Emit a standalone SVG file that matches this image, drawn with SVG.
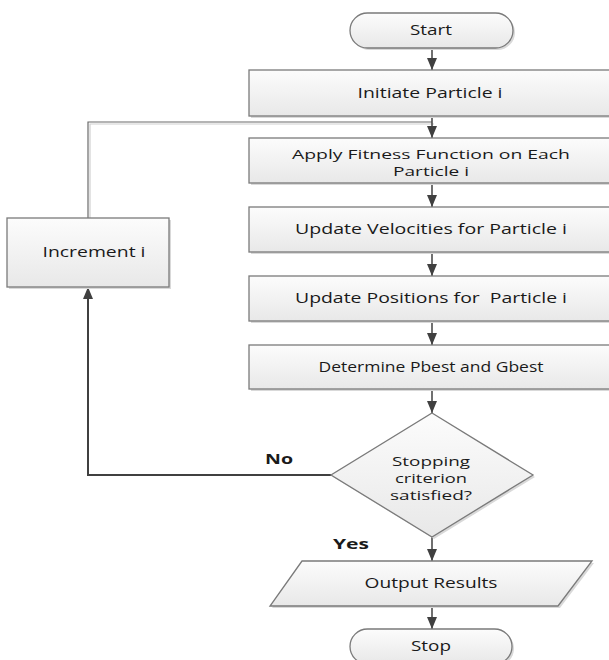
<svg xmlns="http://www.w3.org/2000/svg" width="609" height="660" viewBox="0 0 609 660">
<style>
.box{fill:url(#g);stroke:#7a7a7a;stroke-width:1.3}
.sh{fill:#d9d9d9}
.t{font-family:"Open Sans","DejaVu Sans",sans-serif;font-size:14px;fill:#1a1a1a;text-anchor:middle}
.t2{font-family:"Open Sans","DejaVu Sans",sans-serif;font-size:12px;fill:#1a1a1a;text-anchor:middle}
.lbl{font-family:"Open Sans","DejaVu Sans",sans-serif;font-size:14px;font-weight:bold;fill:#1a1a1a}
.c{fill:none;stroke:#404040;stroke-width:1.5}
.ah{fill:#404040}
</style>
<defs>
<linearGradient id="g" x1="0" y1="0" x2="0" y2="1">
<stop offset="0" stop-color="#fcfcfc"/>
<stop offset="1" stop-color="#e8e8e8"/>
</linearGradient>
<marker id="arr" markerWidth="12" markerHeight="10" refX="12" refY="5" orient="auto" markerUnits="userSpaceOnUse">
<path d="M0,0 L12,5 L0,10 Z" class="ah"/>
</marker>
</defs>
<rect width="609" height="660" fill="#ffffff"/>

<g id="connectors">
<path d="M90,218 V124 H434" fill="none" stroke="#d0d0d0" stroke-width="1.2"/>
<path d="M88,218 V122 H432" fill="none" stroke="#6a6a6a" stroke-width="1.2"/>
<path class="c" d="M432,48 V70" marker-end="url(#arr)"/>
<path class="c" d="M432,116 V138" marker-end="url(#arr)"/>
<path class="c" d="M432,183 V207" marker-end="url(#arr)"/>
<path class="c" d="M432,252 V276" marker-end="url(#arr)"/>
<path class="c" d="M432,321 V345" marker-end="url(#arr)"/>
<path class="c" d="M432,389 V413" marker-end="url(#arr)"/>
<path class="c" d="M432,537 V561" marker-end="url(#arr)"/>
<path class="c" d="M432,606 V629" marker-end="url(#arr)"/>
<path d="M331,475 H88 V287" fill="none" stroke="#404040" stroke-width="2" marker-end="url(#arr)"/>
<text class="lbl" x="265" y="464" textLength="28" lengthAdjust="spacingAndGlyphs">No</text>
<text class="lbl" x="333" y="549" textLength="36" lengthAdjust="spacingAndGlyphs">Yes</text>
</g>

<g id="start">
<rect x="352" y="15" width="163" height="35" rx="17.5" class="sh"/>
<rect x="350" y="13" width="163" height="35" rx="17.5" class="box"/>
<text class="t" x="431" y="35" textLength="42" lengthAdjust="spacingAndGlyphs">Start</text>
</g>

<g id="initiate">
<rect x="251" y="72" width="380" height="46" class="sh"/>
<rect x="249" y="70" width="380" height="46" class="box"/>
<text class="t" x="430" y="98" textLength="145" lengthAdjust="spacingAndGlyphs">Initiate Particle i</text>
</g>

<g id="fitness">
<rect x="251" y="140" width="380" height="45" class="sh"/>
<rect x="249" y="138" width="380" height="45" class="box"/>
<text class="t2" x="431" y="159" textLength="278" lengthAdjust="spacingAndGlyphs">Apply Fitness Function on Each</text>
<text class="t2" x="431" y="176" textLength="76" lengthAdjust="spacingAndGlyphs">Particle i</text>
</g>

<g id="velocities">
<rect x="251" y="209" width="380" height="45" class="sh"/>
<rect x="249" y="207" width="380" height="45" class="box"/>
<text class="t" x="431" y="234" textLength="272" lengthAdjust="spacingAndGlyphs">Update Velocities for Particle i</text>
</g>

<g id="positions">
<rect x="251" y="278" width="380" height="45" class="sh"/>
<rect x="249" y="276" width="380" height="45" class="box"/>
<text class="t" x="431" y="303" textLength="272" lengthAdjust="spacingAndGlyphs" xml:space="preserve">Update Positions for  Particle i</text>
</g>

<g id="determine">
<rect x="251" y="347" width="380" height="44" class="sh"/>
<rect x="249" y="345" width="380" height="44" class="box"/>
<text class="t" x="431" y="372" textLength="225" lengthAdjust="spacingAndGlyphs">Determine Pbest and Gbest</text>
</g>

<g id="increment">
<rect x="9" y="220" width="162" height="69" class="sh"/>
<rect x="7" y="218" width="162" height="69" class="box"/>
<text class="t" x="94" y="257" textLength="103" lengthAdjust="spacingAndGlyphs">Increment i</text>
</g>

<g id="decision">
<polygon points="434,415 535,477 434,539 333,477" class="sh"/>
<polygon points="432,413 533,475 432,537 331,475" class="box"/>
<text class="t2" x="431" y="466" textLength="78" lengthAdjust="spacingAndGlyphs">Stopping</text>
<text class="t2" x="431" y="483" textLength="72" lengthAdjust="spacingAndGlyphs">criterion</text>
<text class="t2" x="431" y="500" textLength="82" lengthAdjust="spacingAndGlyphs">satisfied?</text>
</g>

<g id="output">
<polygon points="304,563 594,563 560,608 272,608" class="sh"/>
<polygon points="302,561 592,561 558,606 270,606" class="box"/>
<text class="t" x="431" y="588" textLength="133" lengthAdjust="spacingAndGlyphs">Output Results</text>
</g>

<g id="stop">
<rect x="352" y="631" width="162" height="35" rx="17.5" class="sh"/>
<rect x="350" y="629" width="162" height="35" rx="17.5" class="box"/>
<text class="t" x="431" y="651" textLength="40" lengthAdjust="spacingAndGlyphs">Stop</text>
</g>
</svg>
